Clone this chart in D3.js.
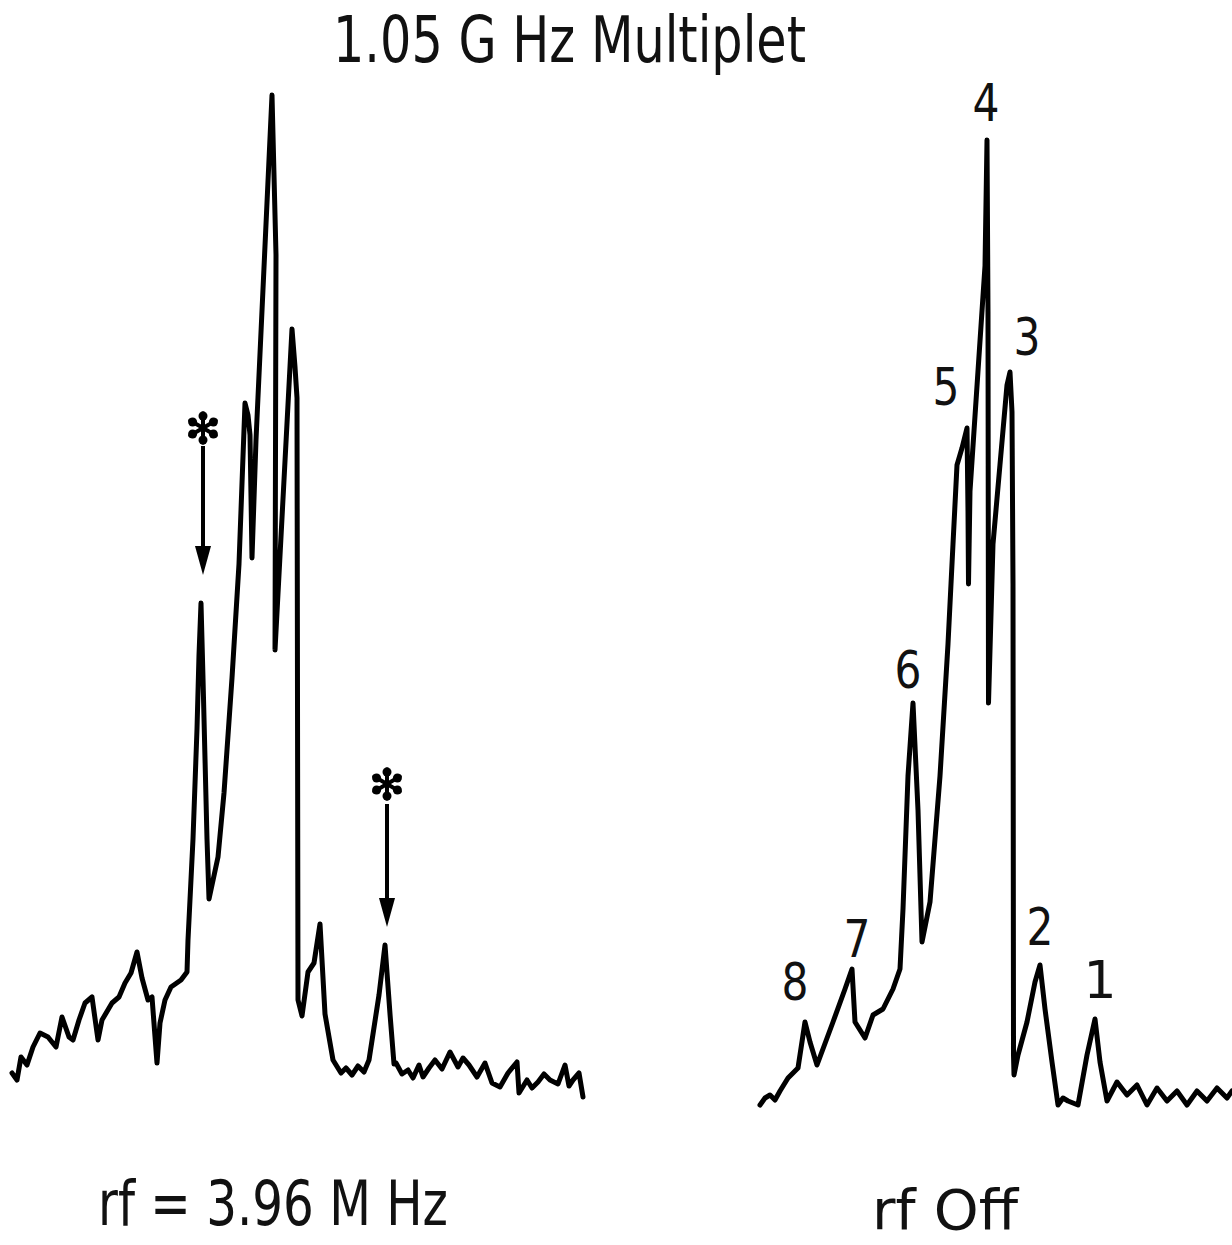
<!DOCTYPE html>
<html>
  <head>
    <meta charset="utf-8">
    <script src="https://d3js.org/d3.v7.min.js"></script>
    <title>1.05 GHz Multiplet</title>
    <style>
      html, body { margin: 0; padding: 0; background: #fff; }
      svg { display: block; }
      text { font-family: "DejaVu Sans", Arial, sans-serif; fill: #111; }
    </style>
  </head>
  <body>
    <svg id="chartSvg" width="1232" height="1245"></svg>
    <script>
      // rf = 3.96 MHz trace : channel / signal (arb. units)
      var leftChannel = [12, 17, 21, 27, 33, 40, 48, 56, 62, 69, 73, 79, 85, 92, 98, 102, 112, 119, 125, 131,
        137, 142, 148, 152, 157, 160, 165, 171, 181, 187, 188, 193, 197, 199, 201, 203, 207, 209, 218, 224,
        232, 239, 245, 248, 250, 252, 256, 272, 276, 275, 292, 295, 297, 298, 302, 308, 314, 320, 325, 333,
        341, 346, 352, 358, 364, 369, 379, 385, 390, 394, 396, 402, 408, 413, 419, 423, 429, 435, 442, 450,
        458, 463, 469, 477, 485, 492, 500, 508, 517, 519, 527, 532, 538, 544, 550, 558, 565, 569, 573, 579, 583];
      var leftSignal = [3.7, 3.0, 5.3, 4.5, 6.3, 7.7, 7.3, 6.3, 9.3, 7.3, 7.0, 9.0, 10.7, 11.3, 7.0, 9.0, 10.7, 11.3, 12.7, 13.7,
        15.8, 13.2, 11.0, 11.3, 4.7, 8.7, 11.0, 12.3, 13.0, 13.8, 17.0, 27.1, 38.1, 45.5, 50.7, 43.2, 27.1, 21.1, 25.3, 31.7,
        43.2, 54.6, 70.7, 69.5, 67.5, 55.2, 67.0, 101.5, 85.5, 46.0, 78.1, 74.3, 71.2, 11.0, 9.4, 13.8, 14.7, 18.6, 9.6, 5.0,
        3.7, 4.2, 3.5, 4.4, 3.8, 5.0, 11.5, 16.5, 9.6, 4.6, 4.7, 3.6, 4.0, 3.2, 4.5, 3.3, 4.2, 5.0, 4.1, 5.8,
        4.3, 5.2, 4.5, 3.3, 4.7, 2.7, 2.3, 3.7, 4.8, 1.7, 3.0, 2.2, 2.8, 3.6, 3.0, 2.6, 4.5, 2.4, 3.0, 3.7, 1.3];

      // rf off trace : channel / signal
      var rightChannel = [20, 25, 30, 35, 40, 48, 58, 65, 70, 77, 93, 105, 112, 115, 125, 133, 143, 153, 160, 163,
        168, 173, 178, 182, 190, 200, 208, 213, 217, 222, 227, 228, 228.5, 230, 245, 247, 248, 248.5, 253, 267,
        270, 272, 273, 273.5, 274, 278, 287, 295, 300, 305, 312, 318, 323, 328, 338, 347, 355, 360, 367, 377,
        387, 397, 407, 417, 427, 437, 447, 457, 467, 477, 487, 492];
      var rightSignal = [0.5, 1.2, 1.5, 1.0, 1.9, 3.2, 4.2, 8.8, 6.8, 4.5, 8.8, 12.1, 14.1, 8.8, 7.2, 9.5, 10.1, 12.1, 14.1, 20.1,
        33.4, 40.7, 30.0, 16.8, 20.8, 33.4, 46.6, 56.6, 64.5, 66.2, 68.2, 59.9, 52.6, 61.9, 84.4, 97.0, 79.8, 40.7, 56.6, 72.5,
        73.8, 69.8, 52.6, 5.5, 3.5, 5.5, 8.8, 12.8, 14.5, 10.1, 4.8, 0.5, 1.2, 0.9, 0.5, 5.5, 9.1, 4.8, 0.9, 2.8,
        1.5, 2.5, 0.5, 2.2, 0.9, 1.9, 0.5, 1.9, 0.9, 2.2, 1.2, 1.9];

      // numbered peaks of the rf-off multiplet
      var peakNames = ["8", "7", "6", "5", "4", "3", "2", "1"];
      var peakChannels = [65, 112, 173, 227, 247, 270, 300, 355];
      // starred peaks of the rf-on trace
      var starChannels = [201, 385];

      var titleText = "1.05 G Hz Multiplet";
      var leftCaption = "rf = 3.96 M Hz";
      var rightCaption = "rf Off";

      var svg = d3.select("#chartSvg");

      var xLeft = d3.scaleLinear().domain([0, 600]).range([0, 600]);
      var xRight = d3.scaleLinear().domain([0, 492]).range([740, 1232]);
      var y = d3.scaleLinear().domain([0, 100]).range([1110, 110]);

      var leftData = leftChannel.map((c, i) => ({x: c, y: leftSignal[i]}));
      var rightData = rightChannel.map((c, i) => ({x: c, y: rightSignal[i]}));

      var lineLeft = d3.line().x(d => xLeft(d.x)).y(d => y(d.y));
      var lineRight = d3.line().x(d => xRight(d.x)).y(d => y(d.y));

      [[leftData, lineLeft], [rightData, lineRight]].forEach(function(p) {
        svg.append("path")
          .datum(p[0])
          .attr("d", p[1])
          .attr("fill", "none")
          .attr("stroke", "#000")
          .attr("stroke-width", 5)
          .attr("stroke-linejoin", "round")
          .attr("stroke-linecap", "round");
      });

      function nearest(data, ch) {
        var best = data[0];
        data.forEach(d => { if (Math.abs(d.x - ch) < Math.abs(best.x - ch)) best = d; });
        return best.y;
      }

      // peak number labels, offset (px) from the peak tip
      var labelOffsets = [[-10, -22], [5, -12], [-5, -15], [-21, -23], [-1, -19], [17, -17], [0, -20], [5, -21]];
      svg.selectAll("text.peak")
        .data(peakNames)
        .enter()
        .append("text")
        .attr("class", "peak")
        .attr("x", (d, i) => xRight(peakChannels[i]) + labelOffsets[i][0])
        .attr("y", (d, i) => y(nearest(rightData, peakChannels[i])) + labelOffsets[i][1])
        .attr("text-anchor", "middle")
        .attr("font-size", 52)
        .attr("textLength", d => d === "1" ? null : 27)
        .attr("lengthAdjust", "spacingAndGlyphs")
        .text(d => d);

      // asterisks with arrows: [star centre, shaft top, arrow tip] above the peak (px)
      var starLayout = [[175, 157, 28], [161, 141, 18]];
      var stars = svg.selectAll("g.star")
        .data(starChannels)
        .enter()
        .append("g")
        .attr("class", "star")
        .attr("transform", d => `translate(${xLeft(d) + 2},${y(nearest(leftData, d))})`);

      stars.append("line")
        .attr("x1", 0).attr("x2", 0)
        .attr("y1", (d, i) => -starLayout[i][1])
        .attr("y2", (d, i) => -starLayout[i][2] - 20)
        .attr("stroke", "#000")
        .attr("stroke-width", 4);

      stars.append("path")
        .attr("d", (d, i) => { var t = -starLayout[i][2]; return `M-8,${t - 29} L8,${t - 29} L0,${t} Z`; })
        .attr("fill", "#000");

      var asterisk = stars.append("g")
        .attr("transform", (d, i) => `translate(0,${-starLayout[i][0]})`);
      asterisk.append("path")
        .attr("d", d3.symbol().type(d3.symbolAsterisk).size(620))
        .attr("fill", "none")
        .attr("stroke", "#000")
        .attr("stroke-width", 4)
        .attr("stroke-linecap", "round");
      // rounded blobs at the arm ends
      asterisk.selectAll("circle")
        .data(d3.range(6))
        .enter()
        .append("circle")
        .attr("cx", k => 12 * Math.cos(Math.PI / 2 + k * Math.PI / 3))
        .attr("cy", k => 12 * Math.sin(Math.PI / 2 + k * Math.PI / 3))
        .attr("r", 4.5)
        .attr("fill", "#000");

      svg.append("text")
        .attr("x", 333).attr("y", 62)
        .attr("font-size", 64)
        .attr("textLength", 473)
        .attr("lengthAdjust", "spacingAndGlyphs")
        .text(titleText);

      svg.append("text")
        .attr("x", 98).attr("y", 1225)
        .attr("font-size", 62)
        .attr("textLength", 350)
        .attr("lengthAdjust", "spacingAndGlyphs")
        .text(leftCaption);

      svg.append("text")
        .attr("x", 872).attr("y", 1229)
        .attr("font-size", 56)
        .attr("textLength", 146)
        .attr("lengthAdjust", "spacingAndGlyphs")
        .text(rightCaption);
    </script>
  </body>
</html>
